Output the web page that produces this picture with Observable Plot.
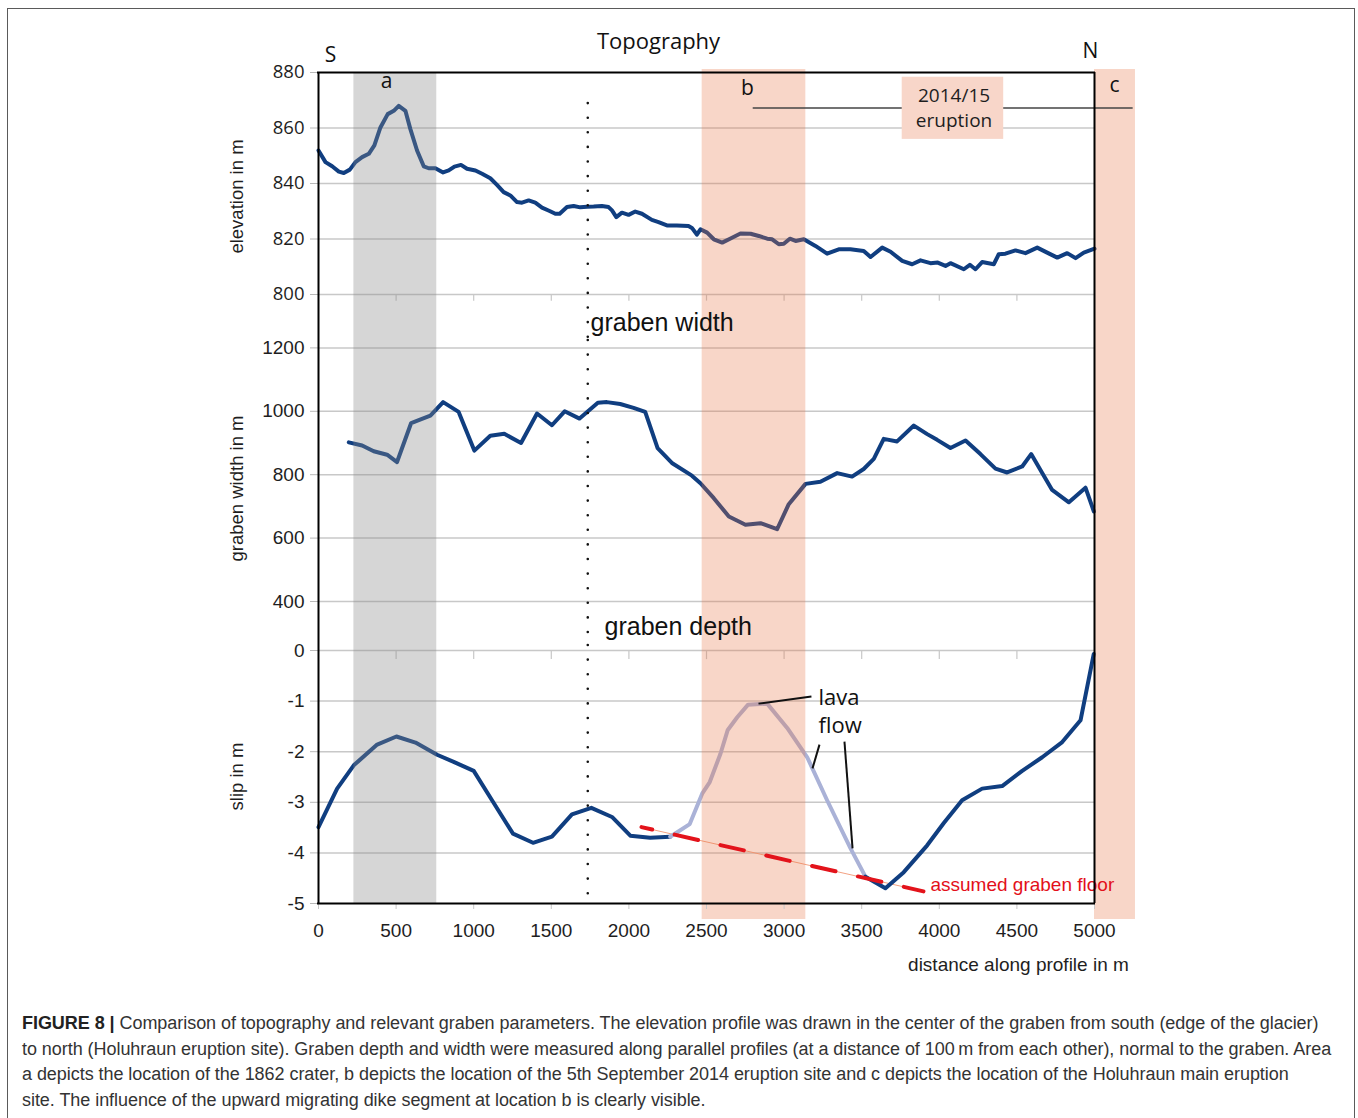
<!DOCTYPE html>
<html>
<head>
<meta charset="utf-8">
<script src="https://cdn.jsdelivr.net/npm/d3@7"></script>
<script src="https://cdn.jsdelivr.net/npm/@observablehq/plot@0.6"></script>
<style>
  body { margin: 0; background: #fff; }
  #wrap { position: relative; width: 1358px; height: 1118px; overflow: hidden; background: #fff; }
  #border { position: absolute; left: 7px; top: 8px; width: 1348px; height: 1140px; border: 1.5px solid #5a5a5a; box-sizing: border-box; }
  #caption { position: absolute; left: 22px; top: 1011px; font-family: "Liberation Sans", Arial, sans-serif; font-size: 18px; line-height: 25.7px; color: #333; white-space: nowrap; letter-spacing: -0.05px; }
  #caption b { color: #222; }
</style>
</head>
<body>
<div id="wrap">
  <div id="border"></div>
  <div id="caption">
    <b>FIGURE 8 |</b> Comparison of topography and relevant graben parameters. The elevation profile was drawn in the center of the graben from south (edge of the glacier)<br>
    to north (Holuhraun eruption site). Graben depth and width were measured along parallel profiles (at a distance of 100&#8201;m from each other), normal to the graben. Area<br>
    a depicts the location of the 1862 crater, b depicts the location of the 5th September 2014 eruption site and c depicts the location of the Holuhraun main eruption<br>
    site. The influence of the upward migrating dike segment at location b is clearly visible.
  </div>
</div>
<script>
// ---------------- data ----------------
const distanceTicks = [0, 500, 1000, 1500, 2000, 2500, 3000, 3500, 4000, 4500, 5000];
const elevationTicks = [800, 820, 840, 860, 880];
const widthTicks = [400, 600, 800, 1000, 1200];
const slipTicks = [0, -1, -2, -3, -4, -5];

const elevationDistance = [0,45,88,131,163,202,238,281,324,360,399,446,485,517,560,592,635,678,710,753,803,839,876,918,957,1011,1054,1107,1150,1193,1236,1279,1311,1354,1397,1440,1489,1526,1554,1601,1644,1687,1730,1773,1826,1869,1891,1919,1955,1998,2041,2084,2148,2191,2245,2309,2384,2406,2438,2461,2504,2547,2601,2655,2719,2784,2837,2891,2923,2966,2998,3037,3074,3127,3202,3277,3352,3427,3513,3557,3632,3686,3761,3825,3879,3943,3990,4040,4072,4158,4197,4233,4276,4351,4383,4426,4491,4555,4631,4695,4760,4824,4878,4931,5000];
const elevationValue = [851.9,847.7,846.2,844.3,843.8,845,847.7,849.5,850.7,853.7,860.2,865,866.2,868,866.2,859.6,851.9,846.2,845.5,845.5,844,844.7,846.1,846.7,845.3,844.7,843.5,841.9,839.5,836.9,835.7,833.3,833.1,833.9,833.1,831.3,830.1,829.1,829.1,831.5,831.9,831.4,831.6,831.7,831.9,831.5,830.3,827.9,829.5,828.7,829.9,829.1,826.9,826.1,824.9,824.9,824.7,824,821.6,823.5,822.3,819.9,818.7,820.2,822,821.9,821.1,820.1,819.9,818.1,818.3,820.1,819.3,819.9,817.5,814.7,816.3,816.3,815.7,813.5,816.9,815.4,812.1,810.9,812.3,811.3,811.5,810.3,811.3,809.1,810.7,809.1,811.7,810.9,814.5,814.7,815.9,814.9,816.9,815.1,813.3,814.9,813.1,815.1,816.5];

const widthDistance = [195,281,356,442,506,597,646,721,803,903,1004,1107,1197,1305,1408,1504,1586,1682,1800,1858,1944,2030,2105,2185,2277,2406,2461,2547,2644,2751,2848,2955,3030,3138,3234,3342,3438,3513,3578,3642,3728,3836,3922,3986,4072,4169,4265,4362,4437,4534,4592,4663,4727,4835,4942,4996];
const widthValue = [902,892,874,863,840,963,972,986,1029,998,876,923,929,900,993,956,1000,977,1027,1029,1023,1011,998,884,837,797,773,726,668,642,647,628,707,771,778,805,794,818,850,913,905,955,928,910,884,908,865,819,807,826,865,805,752,713,759,684];

const slipDistance = [0,120,227,378,502,625,764,871,1000,1118,1253,1382,1504,1633,1758,1891,2009,2137,2266,2392,2472,2521,2590,2637,2698,2768,2891,3020,3149,3277,3428,3524,3653,3771,3922,4029,4147,4276,4405,4534,4663,4792,4910,4995];
const slipValue = [-3.49,-2.73,-2.27,-1.86,-1.70,-1.82,-2.06,-2.20,-2.38,-2.96,-3.62,-3.80,-3.68,-3.24,-3.11,-3.29,-3.66,-3.70,-3.68,-3.43,-2.83,-2.60,-2.04,-1.57,-1.32,-1.07,-1.05,-1.53,-2.11,-2.96,-3.91,-4.47,-4.70,-4.38,-3.85,-3.41,-2.96,-2.73,-2.68,-2.38,-2.11,-1.81,-1.38,-0.07];
const lavaFlowExtent = [2266, 3524];

const grabenFloorDistance = [2081, 3898];
const grabenFloorSlip = [-3.49, -4.76];

const zoneLabel = ["a", "b", "c"];
const zoneStart = [228, 2472, 5000];
const zoneEnd = [762, 3140, 5264];
const dikeDistance = 1735;

// ---------------- derived tables ----------------
const elevation = elevationDistance.map((d, i) => ({d, v: elevationValue[i]}));
const width = widthDistance.map((d, i) => ({d, v: widthValue[i]}));
const slip = slipDistance.map((d, i) => ({d, v: slipValue[i]}));
const grabenFloor = grabenFloorDistance.map((d, i) => ({d, v: grabenFloorSlip[i]}));
const zones = zoneLabel.map((label, i) => ({label, x1: zoneStart[i], x2: zoneEnd[i]}));
const craterZone = zones.filter(z => z.label === "a");
const eruptionZones = zones.filter(z => z.label !== "a");

// ---------------- styles ----------------
const NAVY = "#103e80";
const LAVA = "#aab2d7";
const GRID = "#c8c8c8";
const SANS = "'Liberation Sans', Arial, sans-serif";
const MYR = "'Open Sans', sans-serif";
const W = 1358, ML = 318, MR = 264;

const bands = (top = 0, bottom = 0) => [
  Plot.rect(craterZone, {x1: "x1", x2: "x2", fill: "#8a8a8a", fillOpacity: 0.35}),
  Plot.rect(eruptionZones, {x1: "x1", x2: "x2", fill: "#e8764a", fillOpacity: 0.3, insetTop: top, insetBottom: bottom})
];
const sides = () => Plot.ruleX([0, 5000], {stroke: "#000", strokeWidth: 2});
const dotted = (o = {}) => Plot.ruleX([dikeDistance], {...o, stroke: "#111", strokeWidth: 2.6, strokeDasharray: "0,14.6", strokeLinecap: "round"});
const yTitle = (t, dy) => Plot.text([t], {text: d => d, frameAnchor: "left", dx: -81, dy, rotate: -90, textAnchor: "middle", lineAnchor: "middle", fontSize: 18.5, fontFamily: SANS, fill: "#1e1e1e"});
const zoneText = (label, x, dy) => Plot.text(zones.filter(z => z.label === label), {text: "label", x: () => x, frameAnchor: "top", dy, lineAnchor: "middle", fontSize: 21, fontFamily: MYR, fill: "#111"});
const fmt = d => String(d);

function place(svg, top) {
  svg.style.position = "absolute";
  svg.style.left = "0px";
  svg.style.top = top + "px";
  svg.style.background = "transparent";
  svg.style.overflow = "visible";
  svg.style.maxWidth = "none";
  document.getElementById("wrap").appendChild(svg);
}

// ---------------- panel 1 : elevation ----------------
const p1 = Plot.plot({
  width: W, height: 340, marginTop: 72, marginBottom: 0, marginLeft: ML, marginRight: MR,
  x: {domain: [0, 5000], axis: null},
  y: {domain: [800, 880], range: [294, 72], axis: null},
  marks: [
    Plot.ruleY(elevationTicks.filter(t => t < 880), {stroke: GRID, strokeWidth: 1.5}),
    Plot.ruleX(distanceTicks.slice(1, -1), {y1: 800, y2: 797.6, stroke: GRID, strokeWidth: 1.2}),
    Plot.line(elevation, {x: "d", y: "v", stroke: NAVY, strokeWidth: 4, strokeLinejoin: "round", strokeLinecap: "round"}),
    ...bands(-3, 0),
    Plot.ruleY([867.2], {x1: 2801, x2: 5249, stroke: "#444", strokeWidth: 1.5}),
    Plot.rect([0], {x1: 3761, x2: 4415, y1: 855.9, y2: 878.3, fill: "#f8d6c9"}),
    Plot.text(["2014/15"], {text: d => d, x: 4095, y: 871.7, fontSize: 19, fontFamily: MYR, fill: "#1e1e1e"}),
    Plot.text(["eruption"], {text: d => d, x: 4095, y: 862.7, fontSize: 19, fontFamily: MYR, fill: "#1e1e1e"}),
    Plot.axisY({ticks: elevationTicks, tickSize: 8, tickPadding: 6, stroke: "#b8b8b8", fill: "#1e1e1e", fontSize: 18.5, fontFamily: MYR, tickFormat: fmt, label: null}),
    sides(),
    Plot.ruleY([880], {stroke: "#000", strokeWidth: 2, strokeLinecap: "square"}),
    dotted({y1: 868.8, y2: 783.4}),
    Plot.text(["Topography"], {text: d => d, x: 2191, frameAnchor: "top", dy: -31, lineAnchor: "middle", fontSize: 22, fontFamily: MYR, fill: "#111"}),
    Plot.text(["S"], {text: d => d, x: 77, frameAnchor: "top", dy: -17, lineAnchor: "middle", fontSize: 21, fontFamily: MYR, fill: "#111"}),
    Plot.text(["N"], {text: d => d, x: 4974, frameAnchor: "top", dy: -21, lineAnchor: "middle", fontSize: 21, fontFamily: MYR, fill: "#111"}),
    zoneText("a", 438, 9),
    zoneText("b", 2764, 16),
    zoneText("c", 5129, 13),
    Plot.text(["graben width"], {text: d => d, x: 1753, y: 789.9, textAnchor: "start", fontSize: 25, fontFamily: SANS, fill: "#111"}),
    yTitle("elevation in m", -10)
  ]
});
place(p1, 0);

// ---------------- panel 2 : graben width ----------------
const p2 = Plot.plot({
  width: W, height: 305, marginTop: 0, marginBottom: 0, marginLeft: ML, marginRight: MR,
  x: {domain: [0, 5000], axis: null},
  y: {domain: [400, 1200], range: [261, 7.4], axis: null},
  marks: [
    Plot.ruleY(widthTicks, {stroke: GRID, strokeWidth: 1.5}),
    Plot.line(width, {x: "d", y: "v", stroke: NAVY, strokeWidth: 4, strokeLinejoin: "round", strokeLinecap: "round"}),
    ...bands(0, 0),
    Plot.axisY({ticks: widthTicks, tickSize: 8, tickPadding: 6, stroke: "#b8b8b8", fill: "#1e1e1e", fontSize: 19, fontFamily: SANS, tickFormat: fmt, label: null}),
    sides(),
    dotted(),
    Plot.text(["graben depth"], {text: d => d, x: 1843, y: 320, textAnchor: "start", fontSize: 25, fontFamily: SANS, fill: "#111"}),
    yTitle("graben width in m", -4.5)
  ]
});
place(p2, 340);

// ---------------- panel 3 : slip ----------------
const [lavaFrom, lavaTo] = lavaFlowExtent;
const p3 = Plot.plot({
  width: W, height: 355, marginTop: 0, marginBottom: 97, marginLeft: ML, marginRight: MR,
  x: {domain: [0, 5000], axis: null},
  y: {domain: [-5, 0], range: [258, 5], axis: null},
  marks: [
    Plot.ruleY(slipTicks.filter(t => t > -5), {stroke: GRID, strokeWidth: 1.5}),
    Plot.ruleX(distanceTicks.slice(1, -1), {y1: 0, y2: -0.18, stroke: GRID, strokeWidth: 1.2}),
    Plot.line(grabenFloor, {x: "d", y: "v", stroke: "#f3a283", strokeWidth: 1}),
    Plot.line(slip.filter(p => p.d <= lavaFrom), {x: "d", y: "v", stroke: NAVY, strokeWidth: 4, strokeLinejoin: "round"}),
    Plot.line(slip.filter(p => p.d >= lavaFrom && p.d <= lavaTo), {x: "d", y: "v", stroke: LAVA, strokeWidth: 4, strokeLinejoin: "round"}),
    Plot.line(slip.filter(p => p.d >= lavaTo), {x: "d", y: "v", stroke: NAVY, strokeWidth: 4, strokeLinejoin: "round"}),
    ...bands(0, -16),
    Plot.line(grabenFloor, {x: "d", y: "v", stroke: "#e3131b", strokeWidth: 4, strokeDasharray: "24,23", strokeDashoffset: 13}),
    Plot.link([
      {x1: 2835, y1: -1.05, x2: 3176, y2: -0.91},
      {x1: 3228, y1: -1.86, x2: 3183, y2: -2.33},
      {x1: 3389, y1: -1.80, x2: 3441, y2: -3.91}
    ], {x1: "x1", y1: "y1", x2: "x2", y2: "y2", stroke: "#111", strokeWidth: 2}),
    Plot.text(["lava"], {text: d => d, x: 3222, y: -0.93, textAnchor: "start", fontSize: 22, fontFamily: MYR, fill: "#111"}),
    Plot.text(["flow"], {text: d => d, x: 3222, y: -1.50, textAnchor: "start", fontSize: 22, fontFamily: MYR, fill: "#111"}),
    Plot.text(["assumed graben floor"], {text: d => d, x: 3943, y: -4.63, textAnchor: "start", fontSize: 19, fontFamily: SANS, fill: "#e3101a"}),
    Plot.axisY({ticks: slipTicks, tickSize: 8, tickPadding: 6, stroke: "#b8b8b8", fill: "#1e1e1e", fontSize: 19, fontFamily: SANS, tickFormat: fmt, label: null}),
    Plot.axisX({ticks: distanceTicks, tickSize: 6, tickPadding: 14, stroke: "#c8c8c8", fill: "#1e1e1e", fontSize: 19, fontFamily: SANS, tickFormat: fmt, label: null}),
    sides(),
    Plot.ruleY([-5], {stroke: "#000", strokeWidth: 2, strokeLinecap: "square"}),
    dotted(),
    Plot.text(["distance along profile in m"], {text: d => d, x: 4510, frameAnchor: "bottom", dy: 61.7, lineAnchor: "middle", fontSize: 19, fontFamily: SANS, fill: "#1e1e1e"}),
    yTitle("slip in m", 2)
  ]
});
place(p3, 645);
</script>
</body>
</html>
